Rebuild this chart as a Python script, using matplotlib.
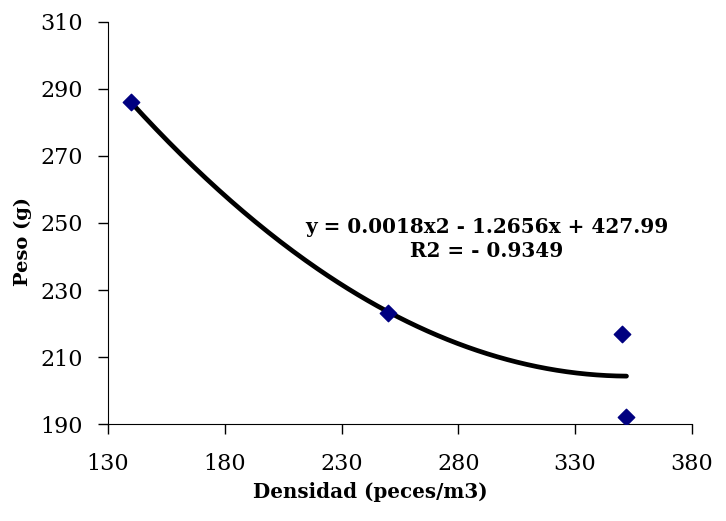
import matplotlib
matplotlib.use('Agg')
import matplotlib.pyplot as plt
import numpy as np

# datos
densidad = [140, 250, 350, 352]
peso = [286, 223, 217, 192]
x_ticks = [130, 180, 230, 280, 330, 380]
y_ticks = [190, 210, 230, 250, 270, 290, 310]
ecuacion = 'y = 0.0018x2 - 1.2656x + 427.99\nR2 = - 0.9349'

plt.rcParams['font.family'] = 'DejaVu Serif'

fig = plt.figure(figsize=(7.26, 5.21), dpi=100)
ax = fig.add_axes([0.1488, 0.186, 0.953 - 0.1488, 0.958 - 0.186])

# linea de tendencia polinomica de orden 2
fit = np.polyfit(densidad, peso, 2)
xs = np.linspace(min(densidad), max(densidad), 200)
ax.plot(xs, np.polyval(fit, xs), color='black', lw=3.4, solid_capstyle='round', zorder=2)
ax.scatter(densidad, peso, marker='D', s=70, color='#000080', zorder=3)

ax.set_xlim(x_ticks[0], x_ticks[-1])
ax.set_ylim(y_ticks[0], y_ticks[-1])
ax.set_xticks(x_ticks)
ax.set_yticks(y_ticks)
ax.tick_params(direction='out', length=7, width=1, labelsize=16)
ax.tick_params(axis='x', pad=14)
ax.tick_params(axis='y', pad=11)
for s in ['top', 'right']:
    ax.spines[s].set_visible(False)

ax.set_xlabel('Densidad (peces/m3)', fontsize=14.3, fontweight='bold')
ax.set_ylabel('Peso (g)', fontsize=14, fontweight='bold')
ax.xaxis.set_label_coords(0.45, -0.145)
ax.yaxis.set_label_coords(-0.13, 0.453)

ax.text(292.2, 245.1, ecuacion, ha='center', va='center', fontsize=14.4,
        fontweight='bold', linespacing=1.25)

fig.savefig('out.png', dpi=100)
